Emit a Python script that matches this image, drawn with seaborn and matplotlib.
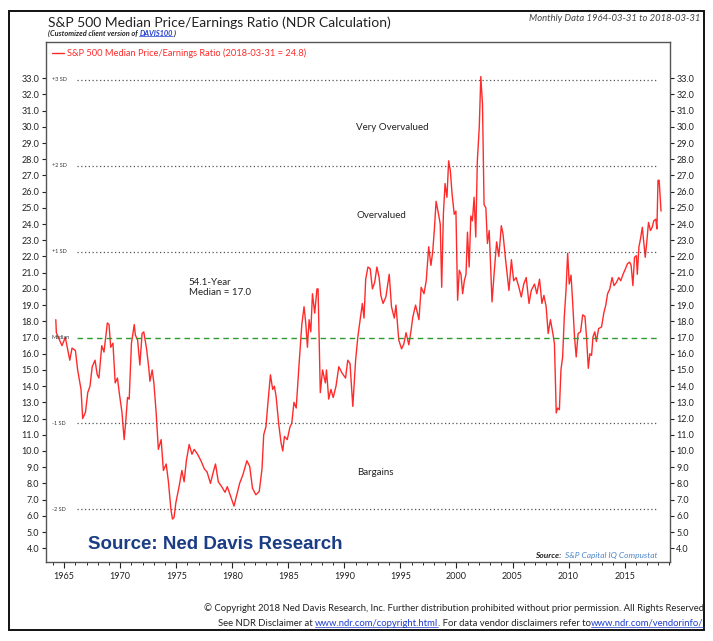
import numpy as np
import pandas as pd
import matplotlib
matplotlib.use("Agg")
import matplotlib.pyplot as plt
import seaborn as sns
from matplotlib.patches import Rectangle
from matplotlib.ticker import MultipleLocator, FormatStrFormatter

# values (decimal year, median P/E)
years = [
    1964.25, 1964.3, 1964.8, 1965.1, 1965.5, 1965.7, 1966.0, 1966.2, 1966.5, 1966.65,
    1966.9, 1967.1, 1967.3, 1967.5, 1967.75, 1967.95, 1968.1, 1968.35, 1968.55, 1968.85,
    1969.0, 1969.15, 1969.35, 1969.55, 1969.75, 1969.95, 1970.15, 1970.35, 1970.5, 1970.65,
    1970.8, 1971.0, 1971.25, 1971.35, 1971.55, 1971.75, 1971.95, 1972.1, 1972.35, 1972.55,
    1972.65, 1972.85, 1973.0, 1973.2, 1973.4, 1973.65, 1973.85, 1974.1, 1974.3, 1974.52,
    1974.66, 1974.8, 1974.96, 1975.25, 1975.5, 1975.7, 1975.9, 1976.15, 1976.4, 1976.6,
    1976.9, 1977.2, 1977.5, 1977.75, 1978.05, 1978.3, 1978.5, 1978.75, 1979.05, 1979.35,
    1979.55, 1979.85, 1980.15, 1980.65, 1980.95, 1981.3, 1981.55, 1981.8, 1982.1, 1982.4,
    1982.65, 1982.8, 1983.0, 1983.15, 1983.4, 1983.6, 1983.75, 1983.9, 1984.15, 1984.35,
    1984.5, 1984.65, 1984.9, 1985.15, 1985.3, 1985.5, 1985.7, 1985.95, 1986.2, 1986.4,
    1986.55, 1986.7, 1986.85, 1987.0, 1987.15, 1987.35, 1987.55, 1987.65, 1987.85, 1988.05,
    1988.3, 1988.4, 1988.6, 1988.8, 1989.0, 1989.25, 1989.5, 1989.8, 1990.1, 1990.3,
    1990.5, 1990.75, 1991.0, 1991.2, 1991.4, 1991.6, 1991.75, 1991.9, 1992.1, 1992.3,
    1992.5, 1992.7, 1992.9, 1993.1, 1993.25, 1993.45, 1993.7, 1994.0, 1994.2, 1994.45,
    1994.6, 1994.85, 1995.1, 1995.3, 1995.5, 1995.75, 1995.95, 1996.1, 1996.35, 1996.65,
    1996.85, 1997.1, 1997.3, 1997.52, 1997.72, 1997.88, 1998.03, 1998.18, 1998.4, 1998.55,
    1998.68, 1998.83, 1998.98, 1999.15, 1999.3, 1999.45, 1999.6, 1999.8, 1999.95, 2000.1,
    2000.25, 2000.4, 2000.55, 2000.7, 2000.85, 2000.98, 2001.13, 2001.28, 2001.42, 2001.57,
    2001.72, 2001.86, 2002.03, 2002.17, 2002.32, 2002.46, 2002.62, 2002.76, 2002.92, 2003.17,
    2003.38, 2003.58, 2003.78, 2004.0, 2004.15, 2004.38, 2004.68, 2004.9, 2005.1, 2005.32,
    2005.57, 2005.78, 2006.0, 2006.22, 2006.47, 2006.67, 2006.96, 2007.17, 2007.41, 2007.62,
    2007.8, 2008.0, 2008.18, 2008.38, 2008.6, 2008.74, 2008.9, 2009.02, 2009.18, 2009.32,
    2009.47, 2009.62, 2009.77, 2009.92, 2010.06, 2010.22, 2010.37, 2010.53, 2010.68, 2010.85,
    2011.07, 2011.26, 2011.46, 2011.6, 2011.76, 2011.9, 2012.05, 2012.18, 2012.34, 2012.48,
    2012.68, 2012.94, 2013.14, 2013.32, 2013.48, 2013.68, 2013.88, 2014.06, 2014.27, 2014.48,
    2014.65, 2014.86, 2015.08, 2015.25, 2015.45, 2015.58, 2015.74, 2015.88, 2016.05, 2016.13,
    2016.28, 2016.42, 2016.58, 2016.71, 2016.84, 2016.98, 2017.13, 2017.31, 2017.46, 2017.6,
    2017.78, 2017.88, 2017.98, 2018.08, 2018.25,
]
pe_ratio = [
    18.1, 17.3, 16.5, 17.0, 15.6, 16.35, 16.2, 15.0, 13.8, 12.0,
    12.4, 13.6, 14.0, 15.2, 15.6, 14.7, 14.5, 16.5, 16.1, 17.9,
    17.8, 16.4, 16.65, 14.2, 14.5, 13.4, 12.4, 10.7, 11.9, 13.3,
    13.2, 16.65, 17.8, 17.15, 16.85, 15.3, 17.25, 17.35, 16.3, 15.1,
    14.3, 15.0, 14.2, 12.4, 10.1, 10.7, 8.8, 9.2, 8.1, 6.4,
    5.8, 5.9, 6.8, 7.8, 8.8, 8.1, 9.4, 10.4, 9.8, 10.1,
    9.8, 9.4, 8.9, 8.7, 8.0, 8.7, 9.2, 8.1, 7.8, 7.45,
    7.8, 7.2, 6.6, 8.0, 8.55, 9.4, 9.05, 7.7, 7.3, 7.5,
    8.9, 11.0, 11.5, 12.75, 14.7, 13.8, 14.0, 13.4, 11.6, 10.5,
    10.0, 10.9, 10.7, 11.5, 11.7, 13.0, 12.65, 15.3, 17.8, 18.9,
    17.9, 16.4, 18.1, 17.35, 19.7, 18.5, 20.0, 20.0, 13.6, 15.0,
    14.2, 15.0, 13.2, 13.8, 13.3, 14.0, 15.2, 14.8, 14.5, 15.6,
    15.4, 12.75, 15.6, 17.05, 18.1, 19.1, 18.2, 20.6, 21.35, 21.25,
    20.0, 20.4, 21.35, 20.7, 19.6, 19.1, 19.5, 20.9, 18.9, 18.2,
    19.0, 16.85, 16.3, 16.6, 17.3, 16.55, 17.45, 18.25, 19.0, 18.1,
    20.1, 19.7, 20.5, 22.6, 21.45, 22.3, 23.7, 25.4, 24.6, 24.0,
    20.1, 24.6, 26.5, 25.65, 27.9, 27.3, 25.9, 24.6, 24.8, 19.3,
    21.15, 20.9, 19.7, 20.5, 20.9, 23.5, 21.35, 24.5, 24.2, 25.65,
    23.2, 27.9, 29.95, 33.1, 31.4, 25.2, 25.0, 22.8, 23.6, 19.2,
    21.15, 22.9, 22.0, 23.9, 23.4, 21.8, 19.9, 21.8, 20.5, 20.7,
    20.1, 19.5, 20.3, 20.7, 19.1, 19.9, 20.3, 19.7, 20.6, 19.1,
    19.6, 18.9, 17.25, 18.1, 17.25, 16.6, 12.35, 12.65, 12.55, 15.0,
    15.8, 18.3, 19.9, 22.2, 20.3, 20.85, 19.1, 17.05, 15.8, 17.25,
    17.35, 18.4, 18.3, 17.05, 15.1, 16.0, 15.9, 17.05, 17.35, 16.75,
    17.55, 17.65, 18.5, 19.0, 19.7, 20.0, 20.7, 20.2, 20.4, 20.7,
    20.5, 20.9, 21.25, 21.55, 21.65, 21.45, 20.2, 21.95, 22.05, 20.9,
    22.6, 23.1, 23.8, 22.9, 21.95, 22.9, 24.1, 23.6, 23.8, 24.2,
    24.3, 23.7, 26.7, 26.7, 24.8,
]

median_pe = 17.0
sd_levels = [32.9, 27.6, 22.3, 11.7, 6.4]
sd_labels = ["+3 SD", "+2 SD", "+1 SD", "-1 SD", "-2 SD"]
year_ticks = [1965, 1970, 1975, 1980, 1985, 1990, 1995, 2000, 2005, 2010, 2015]
y_ticks = np.arange(4.0, 34.0, 1.0)

df = pd.DataFrame({"year": years, "pe": pe_ratio})

sns.set_style("white")
plt.rcParams["font.family"] = ["Lato", "DejaVu Sans"]

fig = plt.figure(figsize=(7.13, 6.41), dpi=100)
ax = fig.add_axes([0.0641, 0.1232, 0.8756, 0.8105])

sns.lineplot(data=df, x="year", y="pe", color="#ff2a2a", linewidth=1.0,
             estimator=None, sort=False, ax=ax,
             label="S&P 500 Median Price/Earnings Ratio (2018-03-31 = 24.8)")

# reference lines
for lvl, lab in zip(sd_levels, sd_labels):
    ax.axhline(lvl, xmin=0.05, xmax=0.981, color="#555555", lw=0.9,
               linestyle=(0, (1, 2)))
    ax.text(1963.9, lvl, lab, fontsize=4, color="#333333", va="center", ha="left")
ax.axhline(median_pe, xmin=0.05, xmax=0.981, color="#2f9a2f", lw=1.0,
           linestyle=(0, (4, 3)))
ax.text(1963.9, median_pe, "Median", fontsize=4, color="#333333", va="center", ha="left")

ax.set_xlim(1963.35, 2019.05)
ax.set_ylim(3.15, 35.2)

ax.set_yticks(y_ticks)
ax.yaxis.set_major_formatter(FormatStrFormatter("%.1f"))
ax.set_xticks(year_ticks)
ax.xaxis.set_minor_locator(MultipleLocator(1))
ax.tick_params(axis="y", which="both", direction="out", length=3, width=0.8,
               labelsize=6.5, left=True, right=True, labelleft=True, labelright=True,
               pad=1.5, colors="#222222")
ax.tick_params(axis="x", which="major", direction="out", length=4, width=0.8,
               labelsize=6.5, bottom=True, pad=3, colors="#222222")
ax.tick_params(axis="x", which="minor", direction="out", length=2.5, width=0.7,
               bottom=True)
ax.set_xlabel("")
ax.set_ylabel("")
for side, sp in ax.spines.items():
    sp.set_visible(True)
    sp.set_color("#555555")
    sp.set_linewidth(1.0)

leg = ax.legend(loc="upper left", bbox_to_anchor=(0.0, 1.0), frameon=False,
                handlelength=1.3, handletextpad=0.3, borderaxespad=0.25,
                fontsize=6.7, labelcolor="#ff2a2a")

# zone annotations
ax.text(1994.25, 29.95, "Very Overvalued", fontsize=7, ha="center", va="center", color="#222222")
ax.text(1993.3, 24.5, "Overvalued", fontsize=7, ha="center", va="center", color="#222222")
ax.text(1976.1, 20.1, "54.1-Year\nMedian = 17.0", fontsize=7, ha="left", va="center",
        color="#222222", linespacing=1.2)
ax.text(1992.75, 8.65, "Bargains", fontsize=7, ha="center", va="center", color="#222222")

ax.text(0.068, 0.033, "Source: Ned Davis Research", transform=ax.transAxes,
        fontsize=13.5, fontweight="bold", color="#1b3d85", family="Liberation Sans",
        ha="left", va="center")
src = ax.text(0.783, 0.012, "Source:", transform=ax.transAxes, fontsize=6,
              fontstyle="italic", fontweight="bold", color="#222222", ha="left", va="center")
ax.annotate("  S&P Capital IQ Compustat", xy=(1, 0.5), xycoords=src, fontsize=6,
            fontstyle="italic", color="#4f86c6", ha="left", va="center")

# header
fig.text(0.0673, 0.9583, "S&P 500 Median Price/Earnings Ratio (NDR Calculation)",
         fontsize=10, color="#222222", ha="left", va="baseline")
sub = fig.text(0.0673, 0.9435, "(Customized client version of ", fontsize=5.3,
               fontstyle="italic", fontweight="bold", color="#222222", ha="left", va="baseline")
dav = fig.text(0, 0, "DAVIS100", fontsize=5.3, fontstyle="italic", fontweight="bold",
               color="#1f3fd0", ha="left", va="baseline")
fig.text(0.982, 0.968, "Monthly Data 1964-03-31 to 2018-03-31", fontsize=6.8,
         fontstyle="italic", color="#444444", ha="right", va="baseline")

# footer
fig.text(0.987, 1 - 611 / 641, "\u00a9 Copyright 2018 Ned Davis Research, Inc. Further distribution "
         "prohibited without prior permission. All Rights Reserved",
         fontsize=6.8, color="#222222", ha="right", va="baseline")
foot_parts = [("See NDR Disclaimer at ", "#222222"), ("www.ndr.com/copyright.html", "#1f3fd0"),
              (". For data vendor disclaimers refer to", "#222222"),
              ("www.ndr.com/vendorinfo/", "#1f3fd0")]
foot_texts = [fig.text(0, 1 - 626 / 641, t, fontsize=6.8, color=c, ha="left", va="baseline")
              for t, c in foot_parts]

# lay out the chained pieces and underline links
renderer = fig.canvas.get_renderer()
inv = fig.transFigure.inverted()
bb = sub.get_window_extent(renderer)
dav.set_position((inv.transform((bb.x1, 0))[0], 0.9435))
dav_bb = dav.get_window_extent(renderer)
close = fig.text(inv.transform((dav_bb.x1, 0))[0], 0.9435, ")", fontsize=5.3,
                 fontstyle="italic", fontweight="bold", color="#222222", ha="left", va="baseline")

widths = [t.get_window_extent(renderer).width for t in foot_texts]
x_right = 0.987 * fig.bbox.width
x = x_right - sum(widths)
for t, w in zip(foot_texts, widths):
    t.set_x(x / fig.bbox.width)
    x += w

underlined = [dav, foot_texts[1], foot_texts[3]]
for t in underlined:
    b = t.get_window_extent(renderer)
    (fx0, fy0), (fx1, _) = inv.transform([(b.x0, b.y0), (b.x1, b.y0)])
    fig.add_artist(plt.Line2D([fx0, fx1], [fy0 + 0.0015, fy0 + 0.0015],
                              transform=fig.transFigure, color=t.get_color(), lw=0.5))

fig.add_artist(Rectangle((0.0126, 0.0172), 0.9748, 0.9661, transform=fig.transFigure,
                         fill=False, lw=1.4, ec="#111111"))

fig.savefig("out.png", dpi=100)
plt.close(fig)
